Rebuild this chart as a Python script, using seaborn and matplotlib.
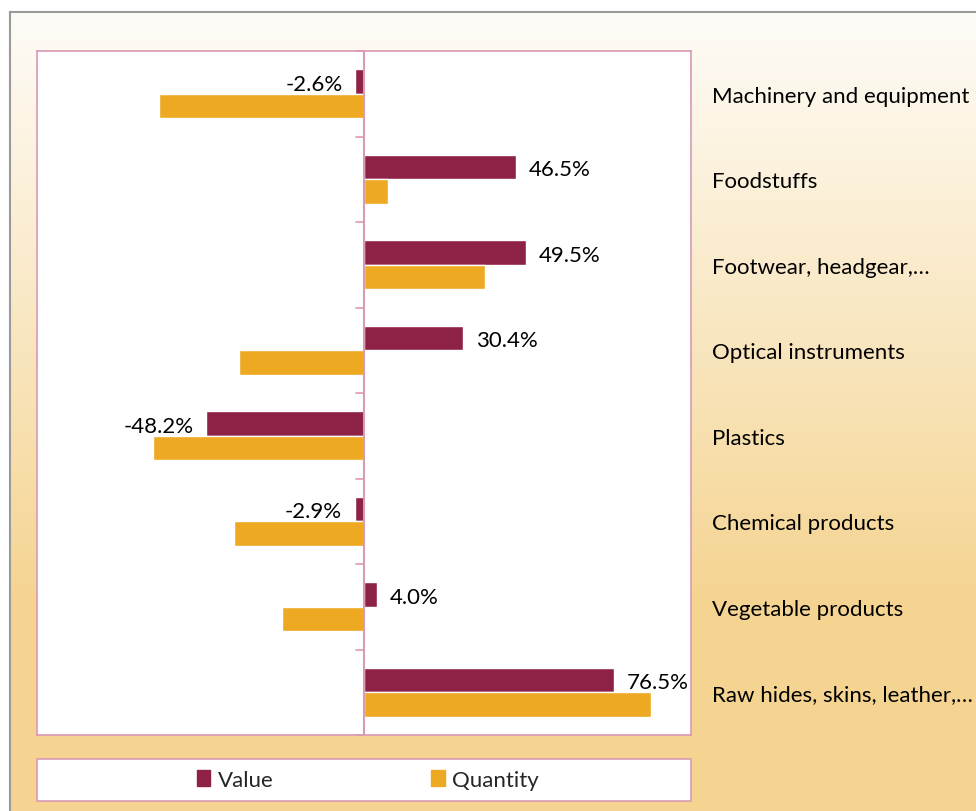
import matplotlib
matplotlib.use("Agg")
import matplotlib.pyplot as plt
import matplotlib.patches as mpatches
import numpy as np
import pandas as pd
import seaborn as sns

# data (% change)
categories = ["Machinery and equipment", "Foodstuffs", "Footwear, headgear,\u2026",
              "Optical instruments", "Plastics", "Chemical products",
              "Vegetable products", "Raw hides, skins, leather,\u2026"]
value_pct = [-2.6, 46.5, 49.5, 30.4, -48.2, -2.9, 4.0, 76.5]
quantity_pct = [-62.7, 7.3, 37.1, -38.3, -64.4, -39.9, -25.2, 87.9]
series = ["Value", "Quantity"]

COL_VALUE = "#8E2246"
COL_QTY = "#EEA922"
PINK = "#D99AB4"
FS = 16

df = pd.DataFrame({
    "category": categories * 2,
    "series": [series[0]] * len(categories) + [series[1]] * len(categories),
    "pct": value_pct + quantity_pct,
})

sns.set_theme(style="white")
plt.rcParams["font.family"] = ["Lato", "DejaVu Sans"]

fig = plt.figure(figsize=(9.76, 8.12), dpi=100)
fig.patch.set_facecolor("white")

# gradient background inside the outer frame
bg = fig.add_axes([10 / 976, 0, 1 - 10 / 976, 1 - 13 / 812], zorder=-10)
t = np.linspace(0, 1, 256)[:, None]
top = np.array([254, 252, 248]) / 255
bot = np.array([245, 212, 145]) / 255
grad = top + (bot - top) * np.clip(t * 1.35, 0, 1)[:, :, None]
grad = np.repeat(grad, 4, axis=1)
bg.imshow(grad, aspect="auto", extent=[0, 1, 0, 1], origin="upper")
bg.set_xticks([])
bg.set_yticks([])
for s in ["right", "bottom"]:
    bg.spines[s].set_visible(False)
for s in ["top", "left"]:
    bg.spines[s].set_color("#9A9A9A")
    bg.spines[s].set_linewidth(1.5)

ax = fig.add_axes([37 / 976, 1 - 736 / 812, 654 / 976, 684 / 812])
sns.barplot(data=df, y="category", x="pct", hue="series", orient="h",
            palette=[COL_VALUE, COL_QTY], width=0.57, gap=0, ax=ax,
            legend=False, saturation=1)
ax.set_facecolor("white")
ax.set_xlim(-100, 100)
ax.set_ylim(len(categories) - 0.5, -0.5)
ax.set_xticks([])
ax.set_xlabel("")
ax.set_ylabel("")
for s in ax.spines.values():
    s.set_color(PINK)
    s.set_linewidth(1.2)

# category labels on the right, outside the plot
ax.yaxis.tick_right()
ax.tick_params(axis="y", length=0, pad=15, labelsize=FS, labelcolor="black")
for lbl in ax.get_yticklabels():
    lbl.set_horizontalalignment("left")

# zero axis with small tick marks between categories
ax.axvline(0, color=PINK, lw=1.5, zorder=1)
for b in np.arange(-0.5, len(categories) + 0.5, 1):
    ax.plot([-2.5, 0], [b, b], color=PINK, lw=1.2, clip_on=False, zorder=1)

labels = ax.bar_label(ax.containers[0], fmt="%.1f%%", padding=9, fontsize=FS, color="black")
for lbl in labels:
    lbl.set_verticalalignment("center_baseline")

# legend box
fig.patches.append(mpatches.Rectangle((37 / 976, 10 / 812), 654 / 976, 42 / 812,
                                      transform=fig.transFigure, facecolor="white",
                                      edgecolor=PINK, lw=1.2, zorder=1))
handles = [mpatches.Patch(color=COL_VALUE, label="Value"),
           mpatches.Patch(color=COL_QTY, label="Quantity")]
fig.legend(handles=handles, loc="center", bbox_to_anchor=(368 / 976, 31 / 812),
           ncol=2, frameon=False, fontsize=FS, handlelength=0.6, handleheight=0.75,
           handletextpad=0.35, columnspacing=7.1)

fig.savefig("out.png", dpi=100)
